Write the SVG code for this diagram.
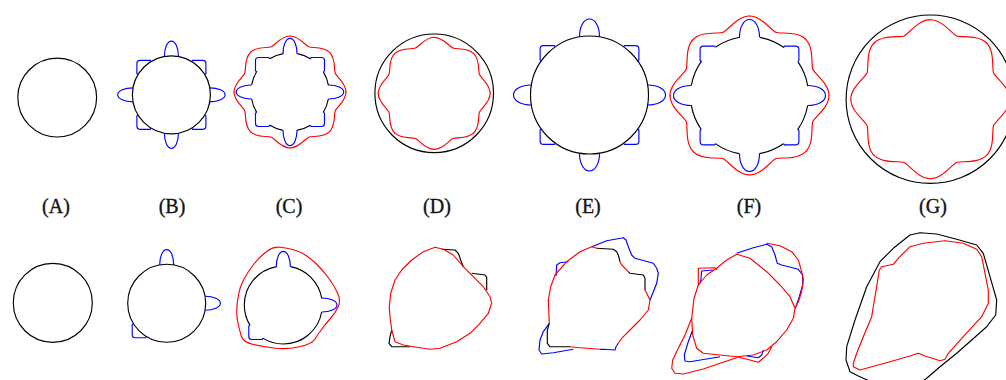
<svg xmlns="http://www.w3.org/2000/svg" xmlns:xlink="http://www.w3.org/1999/xlink" width="1006" height="380" viewBox="0 0 1006 380">
<style>
.k{fill:none;stroke:#000;stroke-width:1.15;stroke-linejoin:round}
.b{fill:none;stroke:#0000ff;stroke-width:1.15;stroke-linejoin:round}
.r{fill:none;stroke:#ff0000;stroke-width:1.15;stroke-linejoin:round;stroke-linecap:round}
text{font-family:"Liberation Serif",serif;font-size:20px;fill:#141414;stroke:#141414;stroke-width:0.35;text-anchor:middle}
</style>
<defs>
<path id="lobeS" d="M-7,-38.37 C-7,-47 -4,-53.7 0,-53.7 C4,-53.7 7,-47 7,-38.37"/>
<path id="sqS" d="M-20.5,-33.2 L-21,-34.5 L-31.5,-34.5 Q-34.5,-34.5 -34.5,-31.5 L-34.5,-21 L-33.2,-20.5"/>
<path id="lobeL" d="M-10,-58.15 C-10,-68 -6,-76 0,-76 C6,-76 10,-68 10,-58.15"/>
<path id="sqL" d="M-34,-48.2 L-35,-49.4 L-46,-49.4 Q-49.4,-49.4 -49.4,-46 L-49.4,-35 L-48.2,-34"/>
<path id="waveS" d="M56,0 C56,9 46.8,15.05 45.27,18.75 C43.74,22.45 45.96,33.23 39.6,39.6"/>
<path id="waveL" d="M79.5,0 C79.5,12 65.2,21.59 63.29,26.21 C61.38,30.83 64.7,47.73 56.22,56.22"/>
</defs>

<!-- top row -->
<g id="A-top"><circle class="k" cx="57.2" cy="97.6" r="39.4"/></g>

<g id="B-top" transform="translate(171.4,94.8)">
<circle class="k" r="39"/>
<g class="b">
<use xlink:href="#lobeS"/><use xlink:href="#lobeS" transform="rotate(90)"/><use xlink:href="#lobeS" transform="rotate(180)"/><use xlink:href="#lobeS" transform="rotate(270)"/>
<use xlink:href="#sqS"/><use xlink:href="#sqS" transform="rotate(90)"/><use xlink:href="#sqS" transform="rotate(180)"/><use xlink:href="#sqS" transform="rotate(270)"/>
</g>
</g>

<g id="C-top" transform="translate(290,92)">
<circle class="k" r="39" stroke-dasharray="0 7.01 14.57 18.11 14.57 7.01"/>
<g class="b">
<use xlink:href="#lobeS"/><use xlink:href="#lobeS" transform="rotate(90)"/><use xlink:href="#lobeS" transform="rotate(180)"/><use xlink:href="#lobeS" transform="rotate(270)"/>
<use xlink:href="#sqS"/><use xlink:href="#sqS" transform="rotate(90)"/><use xlink:href="#sqS" transform="rotate(180)"/><use xlink:href="#sqS" transform="rotate(270)"/>
</g>
<g class="r">
<use xlink:href="#waveS"/><use xlink:href="#waveS" transform="rotate(45)"/><use xlink:href="#waveS" transform="rotate(90)"/><use xlink:href="#waveS" transform="rotate(135)"/><use xlink:href="#waveS" transform="rotate(180)"/><use xlink:href="#waveS" transform="rotate(225)"/><use xlink:href="#waveS" transform="rotate(270)"/><use xlink:href="#waveS" transform="rotate(315)"/>
</g>
</g>

<g id="D-top" transform="translate(434.2,93.3)">
<circle class="k" r="59.3"/>
<g class="r">
<use xlink:href="#waveS"/><use xlink:href="#waveS" transform="rotate(45)"/><use xlink:href="#waveS" transform="rotate(90)"/><use xlink:href="#waveS" transform="rotate(135)"/><use xlink:href="#waveS" transform="rotate(180)"/><use xlink:href="#waveS" transform="rotate(225)"/><use xlink:href="#waveS" transform="rotate(270)"/><use xlink:href="#waveS" transform="rotate(315)"/>
</g>
</g>

<g id="E-top" transform="translate(589.5,95)">
<circle class="k" r="59"/>
<g class="b">
<use xlink:href="#lobeL"/><use xlink:href="#lobeL" transform="rotate(90)"/><use xlink:href="#lobeL" transform="rotate(180)"/><use xlink:href="#lobeL" transform="rotate(270)"/>
<use xlink:href="#sqL"/><use xlink:href="#sqL" transform="rotate(90)"/><use xlink:href="#sqL" transform="rotate(180)"/><use xlink:href="#sqL" transform="rotate(270)"/>
</g>
</g>

<g id="F-top" transform="translate(749.5,95.5)">
<circle class="k" r="59" stroke-dasharray="0 10.05 26.2 20.18 26.2 10.05"/>
<g class="b">
<use xlink:href="#lobeL"/><use xlink:href="#lobeL" transform="rotate(90)"/><use xlink:href="#lobeL" transform="rotate(180)"/><use xlink:href="#lobeL" transform="rotate(270)"/>
<use xlink:href="#sqL"/><use xlink:href="#sqL" transform="rotate(90)"/><use xlink:href="#sqL" transform="rotate(180)"/><use xlink:href="#sqL" transform="rotate(270)"/>
</g>
<g class="r">
<use xlink:href="#waveL"/><use xlink:href="#waveL" transform="rotate(45)"/><use xlink:href="#waveL" transform="rotate(90)"/><use xlink:href="#waveL" transform="rotate(135)"/><use xlink:href="#waveL" transform="rotate(180)"/><use xlink:href="#waveL" transform="rotate(225)"/><use xlink:href="#waveL" transform="rotate(270)"/><use xlink:href="#waveL" transform="rotate(315)"/>
</g>
</g>

<g id="G-top" transform="translate(930.3,99.2)">
<circle class="k" r="84.2"/>
<g class="r">
<use xlink:href="#waveL"/><use xlink:href="#waveL" transform="rotate(45)"/><use xlink:href="#waveL" transform="rotate(90)"/><use xlink:href="#waveL" transform="rotate(135)"/><use xlink:href="#waveL" transform="rotate(180)"/><use xlink:href="#waveL" transform="rotate(225)"/><use xlink:href="#waveL" transform="rotate(270)"/><use xlink:href="#waveL" transform="rotate(315)"/>
</g>
</g>

<!-- labels -->
<g id="labels">
<text x="56" y="213">(A)</text>
<text x="172" y="213">(B)</text>
<text x="289" y="213">(C)</text>
<text x="437" y="213">(D)</text>
<text x="588" y="213">(E)</text>
<text x="749" y="213">(F)</text>
<text x="933" y="213">(G)</text>
</g>

<!-- bottom row -->
<g id="A-bottom"><circle class="k" cx="52.8" cy="302.8" r="39.5"/></g>

<g id="B-bottom" transform="translate(166.7,303.3)">
<circle class="k" r="39"/>
<g class="b">
<use xlink:href="#lobeS"/><use xlink:href="#lobeS" transform="rotate(90)"/><use xlink:href="#sqS" transform="rotate(270)"/>
</g>
</g>

<g id="C-bottom">
<g transform="translate(283.3,305)">
<circle class="k" r="39" stroke-dasharray="0 7.01 75.83 18.11 75.83 14.02 47.24 7.01"/>
<g class="b">
<use xlink:href="#lobeS"/><use xlink:href="#lobeS" transform="rotate(90)"/><use xlink:href="#sqS" transform="rotate(270)"/>
</g>
</g>
<path class="r" d="M266.65,251.5 Q273.3,246.5 280.15,247.25 Q287,248 293.5,249.75 Q300,251.5 306,255.5 Q312,259.5 317,264.5 Q322,269.5 327.75,277 Q333.5,284.5 337.25,292.25 Q341,300 338.5,306 Q336,312 331,317.75 Q326,323.5 322.25,328.5 Q318.5,333.5 315.25,338.75 Q312,344 299.5,346.75 Q287,349.5 275.5,348.25 Q264,347 253.5,344.5 Q243,342 241.25,336 Q239.5,330 238,323.25 Q236.5,316.5 236.75,309.75 Q237,303 238.5,294.75 Q240,286.5 244,279 Q248,271.5 254,264 Q260,256.5 266.65,251.5 Z"/>
</g>

<g id="D-bottom">
<path class="k" d="M441.7,249.3 L455,250 L458.3,253.3 L460.7,260 L463.3,266.7"/>
<path class="k" d="M471.7,273.3 L485,275 L486.7,277.3 L486.7,290"/>
<path class="k" d="M391.7,330 L390,336.7 L389,343.3 L391.7,346.7 L410,346.7"/>
<path class="r" d="M391.7,330 L390,316.7 L389.3,306.7 L390.7,293.3 L395,280 L401.7,270 L411.7,260 L423.3,251.7 L435,247.3 L443.3,249.3 L453.3,255 L463.3,266.7 L473.3,276.7 L483.3,286.7 L490,296.7 L491.7,303.3 L488.3,313.3 L480,323.3 L470,333.3 L456.7,341.7 L440,348.3 L430,349.3 L413.3,346.7 L403.3,345 L395,341.7 Z"/>
</g>

<g id="E-bottom">
<path class="b" d="M556,276 L556.7,265 L560,262.7 L568.3,261.7"/>
<path class="b" d="M591.7,246.7 L606.7,240.7 L623.3,237.7 L626,240 L628.3,246.7 L631.7,255 L635,258.3 L653.3,263.3 L656.7,268.3 L658.3,273.3 L656.7,283.3 L650,300"/>
<path class="b" d="M549.3,323.3 L543.3,331.7 L540,340 L539,350 L541.7,354 L553.3,352.7 L573.3,349.3"/>
<path class="b" d="M618.3,343.3 L616,346.7 L615,350 L603.3,349.3 L600,349.3"/>
<path class="k" d="M596.7,248.3 L613.3,249.3 L616.7,251.7 L618.3,255 L620,261.7"/>
<path class="k" d="M628.3,271.7 L630,273.3 L643.3,275 L645,278.3 L645,290"/>
<path class="k" d="M570,346.7 L550,346.7 L547.3,343.3 L547.3,330 L549.3,323.3"/>
<path class="r" d="M549.3,323.3 L548.3,300 L550.7,286.7 L555,275 L566.7,261.7 L580,251.7 L591.7,246.7 L596.7,248.3"/>
<path class="r" d="M620,261.7 L621.7,265 L628.3,271.7"/>
<path class="r" d="M645,290 L646.7,293.3 L650,300 L648.3,310 L640,320 L630,330 L621.7,338.3 L618.3,343.3"/>
<path class="r" d="M600,349.3 L580,347.7 L570,346.7"/>
</g>

<g id="F-bottom">
<path class="b" d="M736.7,253.3 L753.3,247.7 L766.7,244.3 L771.7,246.7 L775,255 L777.3,263.3 L781.7,265 L798.3,269.3 L802.7,275 L802.7,285 L799.3,296.7 L796,306.7"/>
<path class="b" d="M713.3,270 L701.7,271 L700.7,281.7 L699.3,284.3"/>
<path class="b" d="M692.7,330 L688.3,341.7 L684.3,355 L685,361 L690,361.7 L720,356.7"/>
<path class="b" d="M746.7,356 L758.3,357.7 L761.7,355 L763.3,350"/>
<path class="r" d="M736.7,254.3 L750,258.3 L766.7,271.7 L780,285 L790,296.7 L795,308.3 L793.3,318.3 L786.7,330 L776.7,341.7 L766.7,350 L753.3,355 L736.7,356.7 L720,355 L703.3,353.3 L696.7,348.3 L692.7,335 L691.7,318.3 L694,298.3 L698.3,285 L706.7,275 L716.7,268.3 L726.7,260 Z"/>
<path class="r" d="M766.7,243.3 L780,245.7 L791.7,251.7 L798.3,260 L801.7,271.7 L803.3,280 L801.7,291.7 L798.3,301.7 L795,308.3"/>
<path class="r" d="M771.7,346.7 L768.3,353.3 L763.3,358.3 L758.3,362.3 L750,360 L736.7,356.7"/>
<path class="r" d="M691.7,318.3 L685,335 L678.3,348.3 L672.7,360 L671.7,368.3 L675,373.3 L683.3,374 L703.3,369 L720,363.3 L736.7,357.7"/>
<path class="r" d="M698.3,285 L698.3,268.3 L715,267.7 L716.7,269.3"/>
</g>

<g id="G-bottom">
<path class="k" d="M868.3,380.5 L858.3,376 L850,371.7 L846,360 L846.7,346.7 L855,320 L866.7,286.7 L880,261.7 L893.3,248.3 L910,235 L920,232.7 L936.7,234 L956.7,239.3 L976.7,245 L983.3,253.3 L990,276.7 L996.7,300 L995.7,315 L986.7,326.7 L956.7,353.3 L940,366.7 L926.7,378.3 L923,381"/>
<path class="r" d="M853.3,363.3 L856.7,353.3 L863.3,336.7 L871.7,316.7 L873.3,306.7 L876.7,286.7 L879.3,270 L881.7,266.7 L893.3,264.3 L898.3,258.3 L910,246.7 L923.3,243.3 L945,240.7 L963.3,243.3 L976.7,249.3 L981.7,256.7 L985,273.3 L988.3,290 L988.3,303.3 L981.7,316.7 L963.3,336.7 L948.3,353.3 L945,359.3 L940,360.7 L925,356 L918.3,353.3 L910,356 L890,361.7 L860,370 L853.3,366.7 Z"/>
</g>
</svg>
